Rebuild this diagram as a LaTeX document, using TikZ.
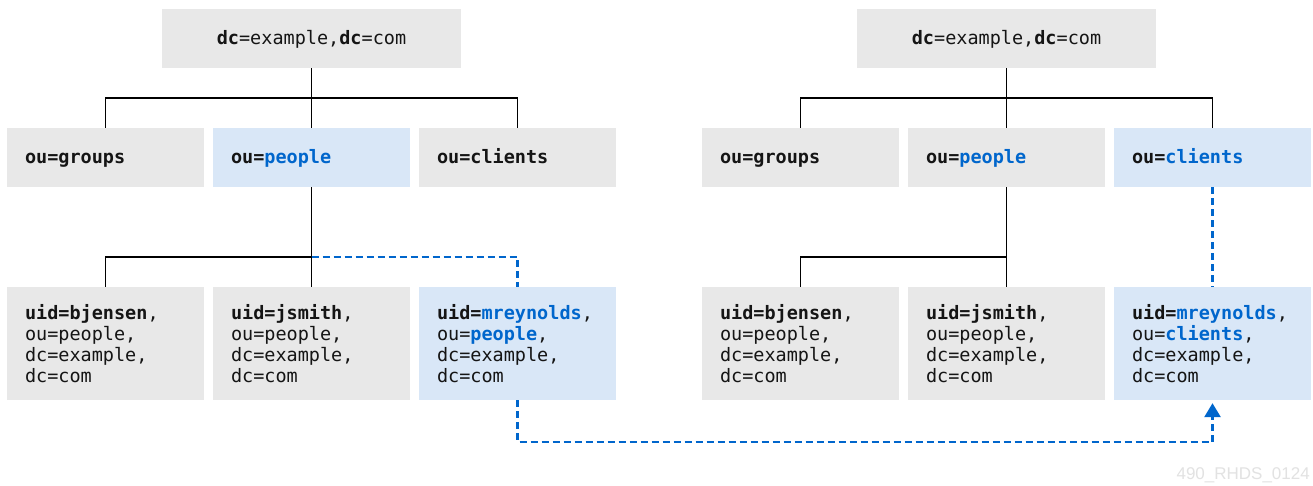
\documentclass[tikz,border=0pt]{standalone}
\usepackage{fontspec}
\setmonofont{DejaVu Sans Mono}
\newfontfamily\wmfont{Liberation Sans}
\usetikzlibrary{arrows.meta}
\definecolor{boxgray}{HTML}{E8E8E8}
\definecolor{boxblue}{HTML}{D9E7F7}
\definecolor{rhblue}{HTML}{0066CC}
\definecolor{txt}{HTML}{151515}
\definecolor{wm}{HTML}{E2E2E2}
\newcommand{\hb}[1]{\textcolor{rhblue}{\textbf{#1}}}
\tikzset{
  base/.style={rectangle, inner xsep=18pt, inner ysep=0pt, text=txt,
    font=\ttfamily\fontsize{18.5}{21}\selectfont},
  topbox/.style={base, fill=boxgray, minimum width=299pt, minimum height=59pt, align=center,
    text height=15pt, text depth=3pt},
  midbox/.style={base, minimum width=197pt, minimum height=59pt, text width=161pt, align=left,
    text height=15pt, text depth=3pt},
  leafbox/.style={base, minimum width=197pt, minimum height=113pt, text width=161pt, align=left},
  gray/.style={fill=boxgray},
  blue/.style={fill=boxblue},
  tree/.style={draw=black, line width=1.9pt},
  move/.style={draw=rhblue, line width=2.6pt, dash pattern=on 7pt off 4pt},
}
\begin{document}
\begin{tikzpicture}[x=1pt,y=-1pt]
\fill[white] (0,0) rectangle (1313,486);
\useasboundingbox (0,0) rectangle (1313,486);

% ---------- left tree ----------
\node[topbox] (topL) at (311.5,38.5) {\textbf{dc}=example,\textbf{dc}=com};
\node[midbox,gray] (grpL) at (105.5,157.5) {\textbf{ou=groups}};
\node[midbox,blue] (pplL) at (311.5,157.5) {\textbf{ou=}\hb{people}};
\node[midbox,gray] (cliL) at (517.5,157.5) {\textbf{ou=clients}};
\node[leafbox,gray] (bjL) at (105.5,343.5) {\textbf{uid=bjensen},\\ou=people,\\dc=example,\\dc=com};
\node[leafbox,gray] (jsL) at (311.5,343.5) {\textbf{uid=jsmith},\\ou=people,\\dc=example,\\dc=com};
\node[leafbox,blue] (mrL) at (517.5,343.5) {\textbf{uid=}\hb{mreynolds},\\ou=\hb{people},\\dc=example,\\dc=com};

\coordinate (b1L) at (311.5,98);
\coordinate (b2L) at (311.5,257);
\draw[tree] (topL.south) -- (pplL.north);
\draw[tree] (grpL.north) |- (b1L) -| (cliL.north);
\draw[tree] (pplL.south) -- (jsL.north);
\draw[tree] (bjL.north) |- (b2L);
\draw[move] (b2L) -| (mrL.north);

% ---------- right tree ----------
\node[topbox] (topR) at (1006.5,38.5) {\textbf{dc}=example,\textbf{dc}=com};
\node[midbox,gray] (grpR) at (800.5,157.5) {\textbf{ou=groups}};
\node[midbox,gray] (pplR) at (1006.5,157.5) {\textbf{ou=}\hb{people}};
\node[midbox,blue] (cliR) at (1212.5,157.5) {\textbf{ou=}\hb{clients}};
\node[leafbox,gray] (bjR) at (800.5,343.5) {\textbf{uid=bjensen},\\ou=people,\\dc=example,\\dc=com};
\node[leafbox,gray] (jsR) at (1006.5,343.5) {\textbf{uid=jsmith},\\ou=people,\\dc=example,\\dc=com};
\node[leafbox,blue] (mrR) at (1212.5,343.5) {\textbf{uid=}\hb{mreynolds},\\ou=\hb{clients},\\dc=example,\\dc=com};

\coordinate (b1R) at (1006.5,98);
\coordinate (b2R) at (1006.5,257);
\draw[tree] (topR.south) -- (pplR.north);
\draw[tree] (grpR.north) |- (b1R) -| (cliR.north);
\draw[tree] (pplR.south) -- (jsR.north);
\draw[tree] (bjR.north) |- (b2R);
\draw[move] (cliR.south) -- (mrR.north);

% ---------- move arrow ----------
\coordinate (low) at (517.5,442);
\draw[move, -{Triangle[width=16pt,length=14pt]}, shorten >=3pt]
  (mrL.south) -- (low) -| (mrR.south);

\node[anchor=east, text=wm, font=\wmfont\fontsize{17}{17}\selectfont, inner sep=0pt] (wmk) at (1310,475) {490\_RHDS\_0124};
\end{tikzpicture}
\end{document}
